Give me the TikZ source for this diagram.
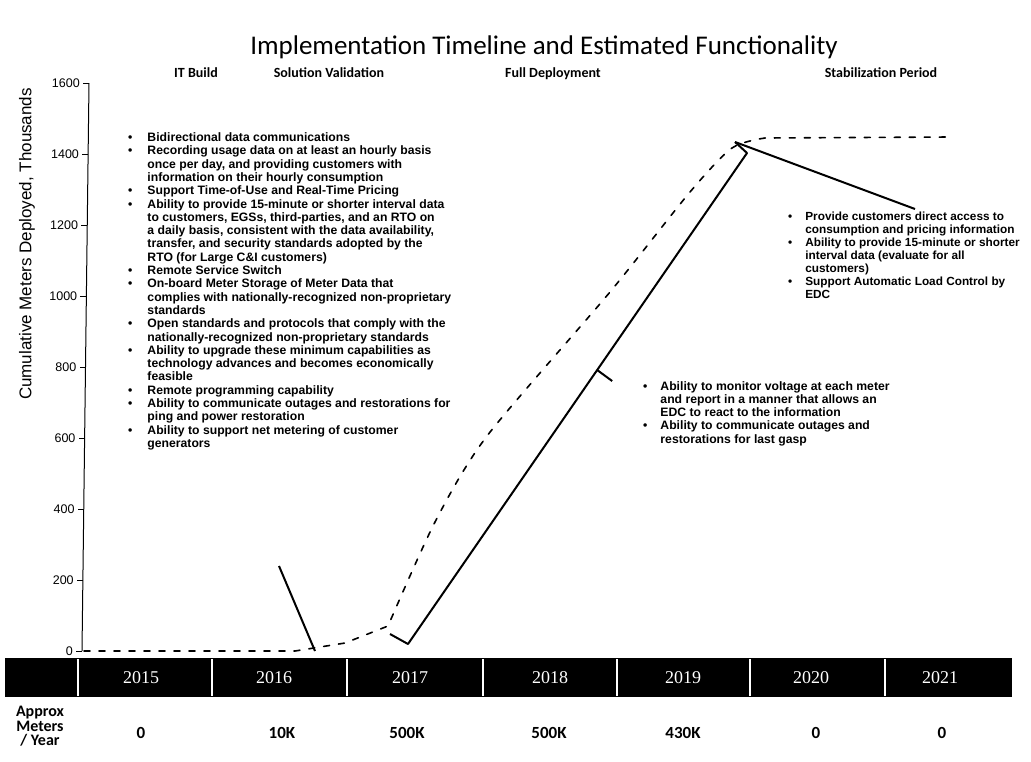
\documentclass[tikz,border=0pt]{standalone}
\usepackage{fontspec}
\setmainfont{Liberation Sans}
\newfontfamily\calfont{Carlito}
\newfontfamily\serfont{Liberation Serif}
\usetikzlibrary{calc}
\begin{document}
\begin{tikzpicture}[x=1pt,y=-1pt,
  body/.style={font=\fontsize{12.2}{13.3}\selectfont\bfseries, inner sep=0pt, anchor=base west, align=left},
  bodys/.style={font=\fontsize{11.8}{13}\selectfont\bfseries, inner sep=0pt, anchor=base west, align=left},
  titletext/.style={font=\calfont\fontsize{27}{30}\selectfont, inner sep=0pt, anchor=base},
  phase/.style={font=\calfont\bfseries\fontsize{14}{16}\selectfont, inner sep=0pt, anchor=base},
  ticklab/.style={font=\fontsize{12.5}{14}\selectfont, inner sep=0pt, anchor=east},
  axislab/.style={font=\fontsize{17}{19}\selectfont, inner sep=0pt, rotate=90},
  yearlab/.style={font=\serfont\fontsize{18}{20}\selectfont, text=white, inner sep=0pt, anchor=base},
  vallab/.style={font=\calfont\bfseries\fontsize{17}{19}\selectfont, inner sep=0pt, anchor=base},
  rowlab/.style={font=\calfont\bfseries\fontsize{16}{14.5}\selectfont, inner sep=0pt, align=center, anchor=north},
  axisline/.style={line width=1pt, black},
  curveline/.style={line width=1.6pt, black, dash pattern=on 6pt off 9pt, line cap=round},
  callout/.style={line width=2pt, black, line join=round},
  sepline/.style={line width=1.4pt, white}
]
\useasboundingbox (0,0) rectangle (1031,761);
\fill[white] (0,0) rectangle (1031,761);

% title and phases
\node[titletext] (title) at (544,54) {Implementation Timeline and Estimated Functionality};
\node[phase] (ph1) at (196,77.5) {IT Build};
\node[phase] (ph2) at (329,77.5) {Solution Validation};
\node[phase] (ph3) at (553,77.5) {Full Deployment};
\node[phase] (ph4) at (881,77.5) {Stabilization Period};

% y axis
\coordinate (ax0) at (82,651);
\coordinate (ax1) at (89,83);
\draw[axisline] (ax0) -- (ax1);
\foreach \i in {0,...,8} {
  \pgfmathsetmacro\yy{651-71*\i}
  \pgfmathsetmacro\xx{82+0.875*\i}
  \pgfmathtruncatemacro\vv{200*\i}
  \coordinate (t\i) at (\xx,\yy);
  \draw[axisline] (t\i) -- ++(-6,0);
  \node[ticklab] (tl\i) at ([xshift=-9pt]t\i) {\vv};
}
\node[axislab] (ylab) at (27,244) {Cumulative Meters Deployed, Thousands};

% cumulative curve
\coordinate (c0) at (84,651);
\coordinate (c1) at (295,651);
\coordinate (c2) at (345,643);
\coordinate (c3) at (388,626);
\coordinate (c4) at (435,522);
\coordinate (c5) at (487,436);
\coordinate (c6) at (610,292);
\coordinate (c7) at (690,192);
\coordinate (c8) at (732,148);
\coordinate (c9) at (765,138);
\coordinate (c10) at (950,137);
\draw[curveline] (c0) -- (c1) -- (c2) -- plot[smooth, tension=0.45] coordinates {(c3) (c4) (c5) (c6) (c7) (c8) (c9)} -- (c10);

% bracket along full deployment
\coordinate (b1) at (390,634);
\coordinate (b2) at (408,644);
\coordinate (b3) at (747,153);
\coordinate (b4) at (735,142);
\draw[callout] (b1) -- (b2) -- (b3) -- (b4);
\coordinate (bm) at ($(b2)!0.558!(b3)$);
\coordinate (bt) at ($(bm)+(15,11)$);
\draw[callout] (bm) -- (bt);
\coordinate (st) at (915,209);
\draw[callout] (b4) -- (st);
\coordinate (lc) at (279,566);
\coordinate (lp) at (315,651);
\draw[callout] (lc) -- (lp);

% left text block
\node[body] (left) at (128,141.5) {\begin{tabular}[t]{@{}c@{\hspace{15pt}}l@{}}
•&Bidirectional data communications\\
•&Recording usage data on at least an hourly basis\\
&once per day, and providing customers with\\
&information on their hourly consumption\\
•&Support Time-of-Use and Real-Time Pricing\\
•&Ability to provide 15-minute or shorter interval data\\
&to customers, EGSs, third-parties, and an RTO on\\
&a daily basis, consistent with the data availability,\\
&transfer, and security standards adopted by the\\
&RTO (for Large C\&I customers)\\
•&Remote Service Switch\\
•&On-board Meter Storage of Meter Data that\\
&complies with nationally-recognized non-proprietary\\
&standards\\
•&Open standards and protocols that comply with the\\
&nationally-recognized non-proprietary standards\\
•&Ability to upgrade these minimum capabilities as\\
&technology advances and becomes economically\\
&feasible\\
•&Remote programming capability\\
•&Ability to communicate outages and restorations for\\
&ping and power restoration\\
•&Ability to support net metering of customer\\
&generators
\end{tabular}};

% stabilization text block
\node[bodys] (stab) at (788,220) {\begin{tabular}[t]{@{}c@{\hspace{13pt}}l@{}}
•&Provide customers direct access to\\
&consumption and pricing information\\
•&Ability to provide 15-minute or shorter\\
&interval data (evaluate for all\\
&customers)\\
•&Support Automatic Load Control by\\
&EDC
\end{tabular}};

% full deployment text block
\node[body] (mid) at (643,390) {\begin{tabular}[t]{@{}c@{\hspace{13pt}}l@{}}
•&Ability to monitor voltage at each meter\\
&and report in a manner that allows an\\
&EDC to react to the information\\
•&Ability to communicate outages and\\
&restorations for last gasp
\end{tabular}};

% year bar
\fill[black] (5,658) rectangle (1012,697);
\foreach \s in {78,212,347,483,617,750,885} {
  \draw[sepline] (\s,659) -- (\s,696);
}
\node[yearlab] (y15) at (141,683) {2015};
\node[yearlab] (y16) at (274,683) {2016};
\node[yearlab] (y17) at (410,683) {2017};
\node[yearlab] (y18) at (550,683) {2018};
\node[yearlab] (y19) at (683,683) {2019};
\node[yearlab] (y20) at (811,683) {2020};
\node[yearlab] (y21) at (940,683) {2021};

% values
\node[rowlab] (rl) at (40,706) {Approx\\Meters\\/ Year};
\node[vallab] (v15) at (141,738) {0};
\node[vallab] (v16) at (282,738) {10K};
\node[vallab] (v17) at (407,738) {500K};
\node[vallab] (v18) at (549,738) {500K};
\node[vallab] (v19) at (683,738) {430K};
\node[vallab] (v20) at (816,738) {0};
\node[vallab] (v21) at (942,738) {0};
\end{tikzpicture}
\end{document}
